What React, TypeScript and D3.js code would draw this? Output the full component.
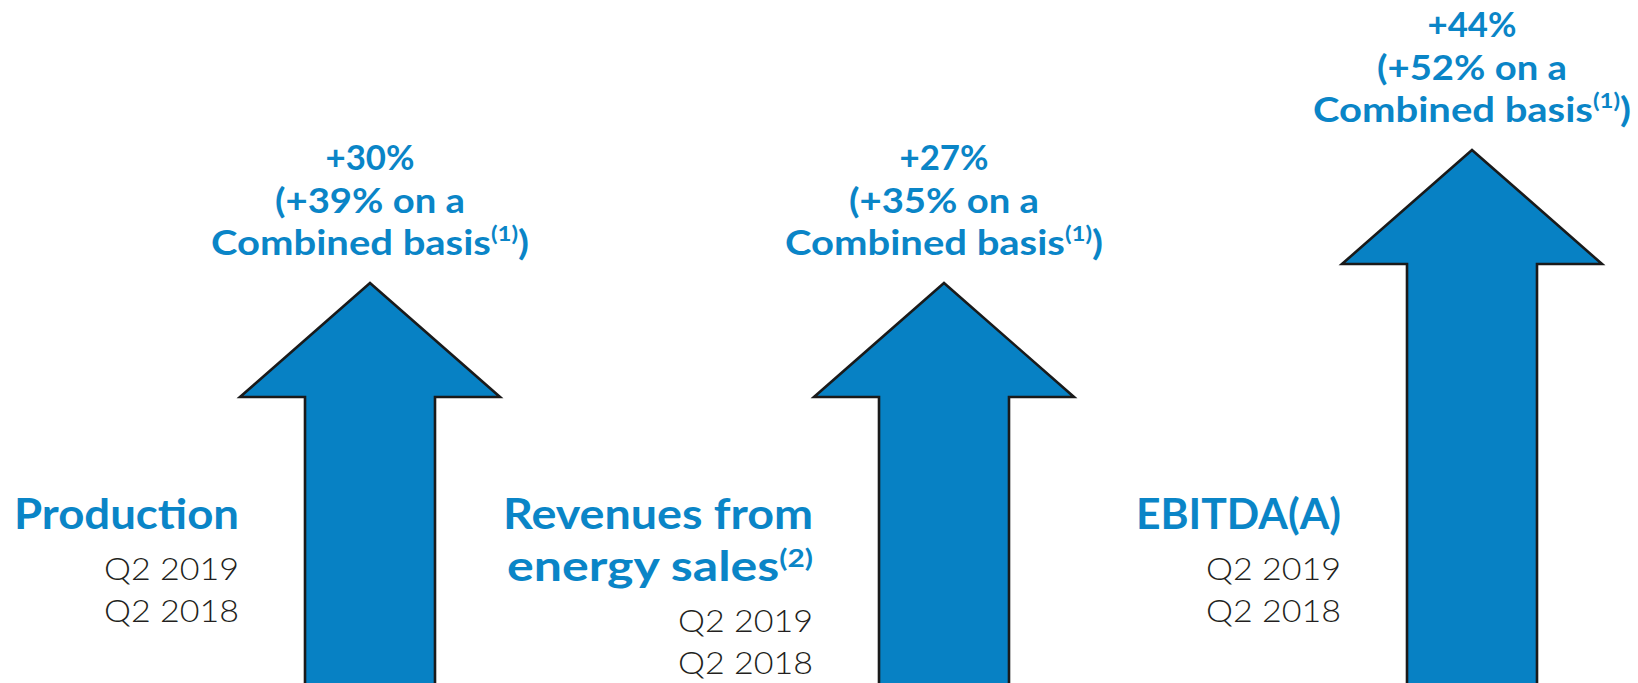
import * as d3 from 'd3';

// categories and values
const categories = ['Production', 'Revenues', 'EBITDA'];
const titleLines = [['Production'], ['Revenues from', 'energy sales'], ['EBITDA(A)']];
const titleNotes = ['', '(2)', ''];
const growth = [30, 27, 44];
const combinedGrowth = [39, 35, 52];
const periods = ['Q2 2019', 'Q2 2018'];

const W = 1638;
const H = 683;
const BLUE = '#0A85C7';
const FILL = '#0781C4';
const INK = '#231F20';
const FONT = 'Lato, "Open Sans", sans-serif';

// arrow centres
const x = d3.scaleOrdinal<string, number>().domain(categories).range([370, 944, 1472]);
// tip height: big jump above 40% gets a longer arrow
const tipY = d3.scaleThreshold<number, number>().domain([40]).range([283, 150]);

const headW = 130;
const headH = 114;
const shaftW = 65;

const arrowPath = (cx: number, top: number) => {
  const p = d3.path();
  p.moveTo(cx, top);
  p.lineTo(cx + headW, top + headH);
  p.lineTo(cx + shaftW, top + headH);
  p.lineTo(cx + shaftW, H + 10);
  p.lineTo(cx - shaftW, H + 10);
  p.lineTo(cx - shaftW, top + headH);
  p.lineTo(cx - headW, top + headH);
  p.closePath();
  return p.toString();
};

export default function App() {
  return (
    <svg width={W} height={H} style={{ position: 'absolute', left: 0, top: 0, background: '#fff' }}>
      {categories.map((c, i) => {
        const cx = x(c);
        const top = tipY(growth[i]);
        const right = cx - headW - 1;
        const lines = titleLines[i];
        const titleBase = 529;
        const qBase = titleBase + (lines.length - 1) * 52 + 51;
        return (
          <g key={c}>
            <path d={arrowPath(cx, top)} fill={FILL} stroke="#1a1a1a" strokeWidth={2.6} strokeLinejoin="miter" />

            {/* growth label above tip */}
            <g fill={BLUE} fontFamily={FONT} fontWeight={700} textAnchor="middle">
              <text x={cx} y={top - 113} fontSize={35} textLength={89} lengthAdjust="spacingAndGlyphs">
                +{growth[i]}%
              </text>
              <text x={cx} y={top - 70} fontSize={35} textLength={190} lengthAdjust="spacingAndGlyphs">
                (+{combinedGrowth[i]}% on a
              </text>
              <text x={cx} y={top - 28} fontSize={35} textLength={318} lengthAdjust="spacingAndGlyphs">
                Combined basis
                <tspan fontSize={21} dy={-14}>(1)</tspan>
                <tspan dy={14}>)</tspan>
              </text>
            </g>

            {/* category title */}
            <g fill={BLUE} fontFamily={FONT} fontWeight={700} textAnchor="end">
              {lines.map((l, j) => {
                const last = j === lines.length - 1;
                const note = last ? titleNotes[i] : '';
                const len = i === 1 ? (j === 0 ? 310 : 306) : i === 0 ? 225 : 205;
                return (
                  <text key={l} x={right} y={titleBase + j * 52} fontSize={42} textLength={len} lengthAdjust="spacingAndGlyphs">
                    {l}
                    {note && <tspan fontSize={25} dy={-14}>{note}</tspan>}
                  </text>
                );
              })}
            </g>

            {/* periods */}
            <g fill={INK} fontFamily={FONT} fontWeight={300} textAnchor="end">
              {periods.map((p, j) => (
                <text key={p} x={right} y={qBase + j * 42} fontSize={32} textLength={135} lengthAdjust="spacingAndGlyphs">
                  {p}
                </text>
              ))}
            </g>
          </g>
        );
      })}
    </svg>
  );
}
